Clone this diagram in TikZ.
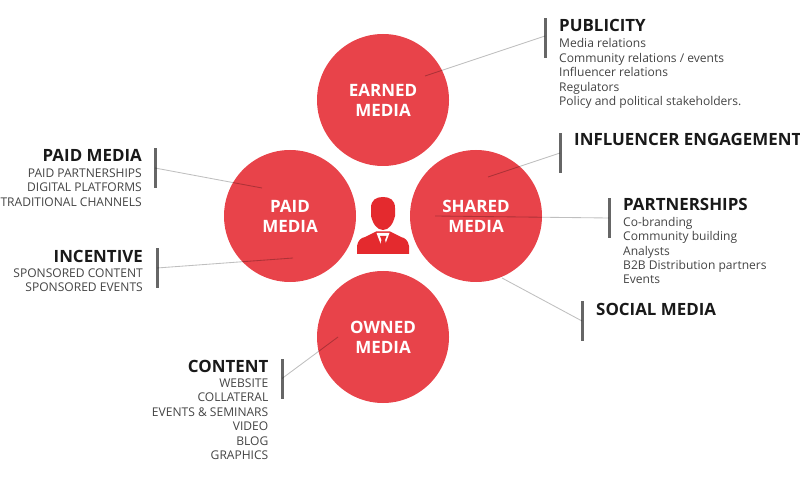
\documentclass[tikz,border=0pt]{standalone}
\usepackage{fontspec}
\setmainfont{Open Sans}
\usepackage{xcolor}
\usetikzlibrary{positioning}
\definecolor{mediared}{HTML}{E8434A}
\definecolor{iconred}{HTML}{E42A2E}
\definecolor{bargray}{HTML}{666666}
\definecolor{listgray}{HTML}{444444}
\tikzset{
  mediacircle/.style={circle,fill=mediared,minimum size=132pt,inner sep=0pt,align=center,
    text=white,font=\fontsize{17}{20}\selectfont\bfseries},
  leaderbar/.style={fill=bargray,minimum width=3pt,minimum height=40pt,inner sep=0pt},
  leaderline/.style={draw=black,opacity=0.25,line width=0.85pt},
  headleft/.style={anchor=base west,inner sep=0pt,text=black!90,font=\fontsize{16.9}{18}\selectfont\bfseries},
  headright/.style={anchor=base east,inner sep=0pt,text=black!90,font=\fontsize{16.9}{18}\selectfont\bfseries},
  listleft/.style={anchor=north west,inner sep=0pt,align=left,text=listgray,font=\fontsize{12.05}{14.4}\selectfont},
  listright/.style={anchor=north east,inner sep=0pt,align=right,text=listgray,font=\fontsize{12.05}{14.4}\selectfont}
}
\begin{document}
\begin{tikzpicture}[x=1pt,y=-1pt]
  \useasboundingbox (0,0) rectangle (800,478);
  % circles
  \node[mediacircle] (earned) at (383,100) {EARNED\\MEDIA};
  \node[mediacircle] (paid) at (290,216) {PAID\\MEDIA};
  \node[mediacircle] (shared) at (476,216) {SHARED\\MEDIA};
  \node[mediacircle] (owned) at (383,337) {OWNED\\MEDIA};
  % person
  \fill[iconred] (371,216) -- (371,208) .. controls (371,200) and (376,197) .. (383,197)
    .. controls (390,197) and (395,200) .. (395,208) -- (395,216)
    .. controls (393,224) and (389,230) .. (383,230)
    .. controls (377,230) and (373,224) .. (371,216) -- cycle;
  \fill[iconred] (357,254) -- (357,246) .. controls (358,240) and (361,238) .. (365,237)
    -- (376,231.5) -- (390,231.5) -- (401,237) .. controls (405,238) and (408,240) .. (409,246)
    -- (409,254) -- cycle;
  \fill[white] (376.5,233) -- (389.5,233) -- (383,250) -- cycle;
  \fill[iconred] (380,236) -- (386.5,236) -- (385,240) -- (387,247) -- (383.2,252) -- (379.5,247) -- (381.5,240) -- cycle;
  % publicity
  \node[leaderbar] (publicitybar) at (545,38) {};
  \coordinate (publicityend) at (425,76);
  \draw[leaderline] (publicitybar.center) ++(0,-2) -- (publicityend);
  \node[headleft] (publicity) at (559,32) {PUBLICITY};
  \node[listleft,below=6.5pt of publicity.base west,anchor=north west] (publicitylist) {Media relations\\Community relations / events\\Influencer relations\\Regulators\\Policy and political stakeholders.};
  % influencer
  \node[leaderbar] (influencerbar) at (560,153) {};
  \coordinate (influencerend) at (488,177);
  \draw[leaderline] (influencerbar.center) -- (influencerend);
  \node[headleft] (influencer) at (574,146) {INFLUENCER ENGAGEMENT};
  % partnerships
  \node[leaderbar] (partnershipsbar) at (609,218) {};
  \coordinate (partnershipsend) at (435,216);
  \draw[leaderline] (partnershipsbar.center) -- (partnershipsend);
  \node[headleft] (partnerships) at (623,210.5) {PARTNERSHIPS};
  \node[listleft,below=6.5pt of partnerships.base west,anchor=north west] (partnershipslist) {Co-branding\\Community building\\Analysts\\B2B Distribution partners\\Events};
  % social
  \node[leaderbar] (socialbar) at (582,321) {};
  \coordinate (socialend) at (502,278);
  \draw[leaderline] (socialbar.center) -- (socialend);
  \node[headleft] (social) at (596,315) {SOCIAL MEDIA};
  % paid media
  \node[leaderbar] (paidbar) at (155,168) {};
  \coordinate (paidend) at (262,188);
  \draw[leaderline] (paidbar.center) -- (paidend);
  \node[headright] (paidhead) at (142,162) {PAID MEDIA};
  \node[listright,below=6.5pt of paidhead.base east,anchor=north east] (paidlist) {PAID PARTNERSHIPS\\DIGITAL PLATFORMS\\TRADITIONAL CHANNELS};
  % incentive
  \node[leaderbar] (incentivebar) at (157,268) {};
  \coordinate (incentiveend) at (293,258);
  \draw[leaderline] (incentivebar.center) -- (incentiveend);
  \node[headright] (incentive) at (143,262) {INCENTIVE};
  \node[listright,below=6.5pt of incentive.base east,anchor=north east] (incentivelist) {SPONSORED CONTENT\\SPONSORED EVENTS};
  % content
  \node[leaderbar] (contentbar) at (282,378.5) {};
  \coordinate (contentend) at (338,337);
  \draw[leaderline] (contentbar.center) -- (contentend);
  \node[headright] (content) at (268.5,372) {CONTENT};
  \node[listright,below=6.5pt of content.base east,anchor=north east] (contentlist) {WEBSITE\\COLLATERAL\\EVENTS \& SEMINARS\\VIDEO\\BLOG\\GRAPHICS};
\end{tikzpicture}
\end{document}
